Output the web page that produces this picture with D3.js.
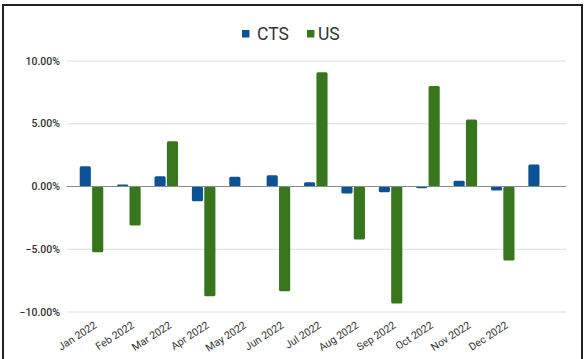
<!DOCTYPE html>
<html>
<head>
<meta charset="utf-8">
<script src="https://cdn.jsdelivr.net/npm/d3@7"></script>
<style>
  body { margin: 0; background: #fff; }
  svg { display: block; font-family: Roboto, "Noto Sans", sans-serif; }
</style>
</head>
<body>
<div id="viz"></div>
<script>
// monthly returns, in percent
var months = ["Jan 2022", "Feb 2022", "Mar 2022", "Apr 2022", "May 2022", "Jun 2022",
              "Jul 2022", "Aug 2022", "Sep 2022", "Oct 2022", "Nov 2022", "Dec 2022", ""];
var cts = [1.62, 0.15, 0.82, -1.17, 0.77, 0.9, 0.34, -0.56, -0.45, -0.13, 0.45, -0.32, 1.75];
var us  = [-5.24, -3.11, 3.61, -8.75, 0, -8.35, 9.11, -4.23, -9.33, 8.0, 5.34, -5.9, 0];
var seriesNames = ["CTS", "US"];
var yTicks = [-10, -5, 0, 5, 10];

var colors = { CTS: "#0b5394", US: "#38761d" };

var W = 585, H = 359;

var svg = d3.select("#viz").append("svg")
    .attr("width", W)
    .attr("height", H);

// frame
svg.append("path")
    .attr("d", "M3,360 V5 H582 V360")
    .attr("fill", "none")
    .attr("stroke", "#222")
    .attr("stroke-width", 2);

var x0 = d3.scaleBand()
    .domain(months)
    .range([72.8, 558.8])
    .paddingInner(0.37)
    .paddingOuter(0.185);

var x1 = d3.scaleBand()
    .domain(seriesNames)
    .range([0, x0.bandwidth()])
    .paddingInner(0.1);

var y = d3.scaleLinear()
    .domain([-10, 10])
    .range([312, 61]);

var gridLeft = 67, gridRight = 566;

// gridlines + y labels
var grid = svg.append("g");
grid.selectAll("line")
    .data(yTicks)
    .enter().append("line")
    .attr("x1", gridLeft)
    .attr("x2", gridRight)
    .attr("y1", function(d) { return y(d); })
    .attr("y2", function(d) { return y(d); })
    .attr("stroke", "#dcdcdc")
    .attr("stroke-width", 1);

grid.selectAll("text")
    .data(yTicks)
    .enter().append("text")
    .attr("x", 60)
    .attr("y", function(d) { return y(d) + 3.5; })
    .attr("text-anchor", "end")
    .attr("font-size", 10.5)
    .attr("font-weight", 500)
    .attr("fill", "#333")
    .text(function(d) { return d3.format(".2f")(d) + "%"; });

// bars
var rows = months.map(function(m, i) {
    return { month: m, values: [{ key: "CTS", v: cts[i] }, { key: "US", v: us[i] }] };
});

var groups = svg.append("g").selectAll("g")
    .data(rows)
    .enter().append("g")
    .attr("transform", function(d) { return "translate(" + x0(d.month) + ",0)"; });

groups.selectAll("rect")
    .data(function(d) { return d.values.filter(function(e) { return e.v !== 0; }); })
    .enter().append("rect")
    .attr("x", function(d) { return x1(d.key); })
    .attr("width", x1.bandwidth())
    .attr("y", function(d) { return y(Math.max(0, d.v)); })
    .attr("height", function(d) { return Math.abs(y(d.v) - y(0)); })
    .attr("rx", 1.5)
    .attr("fill", function(d) { return colors[d.key]; });

// zero line
svg.append("line")
    .attr("x1", gridLeft)
    .attr("x2", gridRight)
    .attr("y1", y(0))
    .attr("y2", y(0))
    .attr("stroke", "#8a8a8a")
    .attr("stroke-width", 1);

// x labels, rotated
svg.append("g").selectAll("text")
    .data(months.filter(function(m) { return m !== ""; }))
    .enter().append("text")
    .attr("transform", function(d) {
        return "translate(" + (x0(d) + x0.bandwidth() / 2 + 6) + ",327) rotate(-33)";
    })
    .attr("text-anchor", "end")
    .attr("font-size", 10.5)
    .attr("fill", "#333")
    .text(function(d) { return d; });

// legend
var legend = svg.append("g");
var legendItems = [{ key: "CTS", x: 242, tx: 257 }, { key: "US", x: 307, tx: 318 }];
legend.selectAll("rect")
    .data(legendItems)
    .enter().append("rect")
    .attr("x", function(d) { return d.x; })
    .attr("y", 30)
    .attr("width", 7.5)
    .attr("height", 7.5)
    .attr("fill", function(d) { return colors[d.key]; });
legend.selectAll("text")
    .data(legendItems)
    .enter().append("text")
    .attr("x", function(d) { return d.tx; })
    .attr("y", 39.5)
    .attr("font-size", 17.5)
    .attr("fill", "#333")
    .text(function(d) { return d.key; });
</script>
</body>
</html>
